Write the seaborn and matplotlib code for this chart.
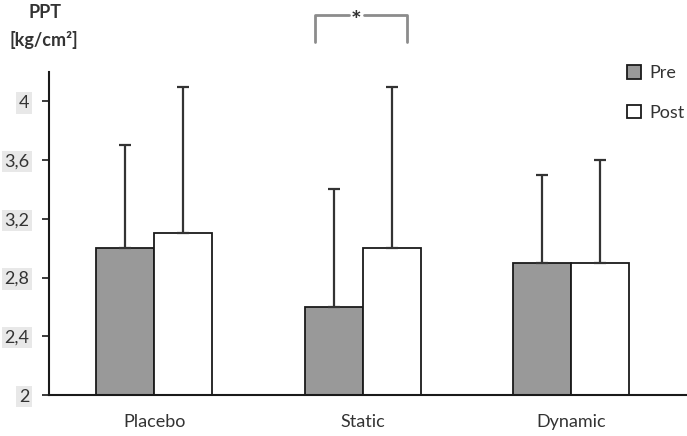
import matplotlib
matplotlib.use("Agg")
import matplotlib.pyplot as plt
import seaborn as sns
import pandas as pd
from matplotlib.patches import Patch

groups = ["Placebo", "Static", "Dynamic"]
times = ["Pre", "Post"]
pre_mean = [3.0, 2.6, 2.9]
post_mean = [3.1, 3.0, 2.9]
pre_sd = [0.7, 0.8, 0.6]
post_sd = [1.0, 1.1, 0.7]
yticks = [2.0, 2.4, 2.8, 3.2, 3.6, 4.0]
ytick_labels = ["2", "2,4", "2,8", "3,2", "3,6", "4"]

sns.set_style("white")
plt.rcParams["font.family"] = ["Lato", "DejaVu Sans"]

df = pd.DataFrame({
    "group": groups * 2,
    "time": ["Pre"] * 3 + ["Post"] * 3,
    "mean": pre_mean + post_mean,
    "sd": pre_sd + post_sd,
})

fig = plt.figure(figsize=(6.87, 4.36), dpi=100)
ax = fig.add_axes([49 / 687, 1 - 395 / 436, (687 - 49) / 687, (395 - 72) / 436])

sns.barplot(data=df, x="group", y="mean", hue="time", hue_order=times,
            order=groups, palette=["#999999", "#ffffff"], edgecolor="#1a1a1a",
            linewidth=1.3, width=0.556, gap=0, errorbar=None, legend=False, ax=ax)

sd_by_time = {"Pre": pre_sd, "Post": post_sd}
for cont, t in zip(ax.containers, times):
    for bar, sd in zip(cont, sd_by_time[t]):
        x = bar.get_x() + bar.get_width() / 2
        top = bar.get_height()
        ax.errorbar(x, top, yerr=[[0], [sd]], fmt="none", ecolor="#333333",
                    elinewidth=1.6, capsize=4, capthick=1.6, zorder=1)

ax.set_xlim(-0.504, 2.556)
ax.set_ylim(2, 4.2)
ax.set_yticks(yticks)
ax.set_yticklabels(ytick_labels)
ax.set_xlabel("")
ax.set_ylabel("")
for s in ["top", "right"]:
    ax.spines[s].set_visible(False)
for s in ["left", "bottom"]:
    ax.spines[s].set_color("#1a1a1a")
    ax.spines[s].set_linewidth(1.5)
ax.tick_params(axis="y", which="major", direction="out", length=5, width=1.2,
               color="#1a1a1a", labelsize=13, labelcolor="#333333", pad=9, left=True)
ax.tick_params(axis="x", length=0, labelsize=13, labelcolor="#333333", pad=14)
for lab in ax.get_yticklabels():
    lab.set_bbox(dict(facecolor="#e8e8e8", edgecolor="none", pad=2))

# y-axis title
fig.text(45 / 687, 1 - 12 / 436, "PPT", ha="center", va="center",
         fontsize=13, fontweight="bold", color="#333333")
fig.text(44 / 687, 1 - 40 / 436, "[kg/cm²]", ha="center", va="center",
         fontsize=13, fontweight="bold", color="#333333")

# significance bracket
bc = "#8c8c8c"
ax.plot([0.770, 0.770, 0.933], [4.403, 4.587, 4.587], color=bc, lw=2,
        clip_on=False, solid_capstyle="round", solid_joinstyle="round")
ax.plot([1.005, 1.211, 1.211], [4.587, 4.587, 4.403], color=bc, lw=2,
        clip_on=False, solid_capstyle="round", solid_joinstyle="round")
ax.text(0.97, 4.545, "*", ha="center", va="center", fontsize=18,
        fontweight="bold", color="#333333", clip_on=False)

handles = [Patch(facecolor="#999999", edgecolor="#1a1a1a", lw=1.3, label="Pre"),
           Patch(facecolor="#ffffff", edgecolor="#1a1a1a", lw=1.3, label="Post")]
leg = fig.legend(handles=handles, loc="upper left",
                 bbox_to_anchor=(620 / 687, 1 - 58 / 436), frameon=False,
                 handlelength=0.75, handleheight=0.75, handletextpad=0.5,
                 labelspacing=1.3, fontsize=13, borderaxespad=0)
for t in leg.get_texts():
    t.set_color("#333333")

fig.savefig("out.png", dpi=100)
